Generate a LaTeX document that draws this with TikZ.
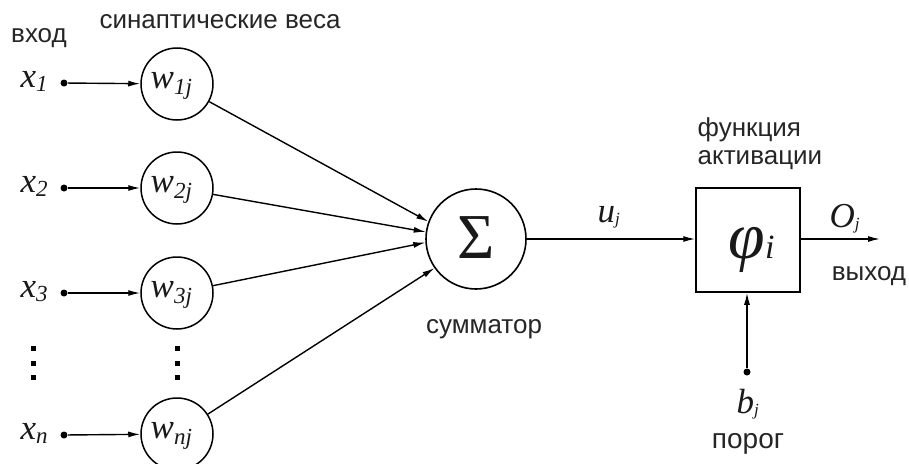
\documentclass[tikz,border=0pt]{standalone}
\usepackage{fontspec}
\setmainfont{Liberation Sans}
\newfontfamily\serifit{Liberation Serif}
\usetikzlibrary{arrows.meta}
\newcommand\xsub[1]{\raisebox{-4pt}{\fontsize{23}{23}\selectfont #1}}
\newcommand\wsub[1]{\raisebox{-6pt}{\fontsize{23}{23}\selectfont #1}}
\newcommand\jsub[1]{\raisebox{-2pt}{\fontsize{17}{17}\selectfont #1}}
\begin{document}
\begin{tikzpicture}[x=1pt,y=-1pt,line width=1.4pt,
  wcirc/.style={circle,draw,line width=1.5pt,minimum size=72pt,inner sep=0pt},
  lbl/.style={font=\fontsize{26}{28}\selectfont,text=black!85,inner sep=0pt},
  var/.style={font=\fontsize{35}{36}\selectfont\serifit\itshape,inner sep=0pt,anchor=base west,text=black!90},
  arr/.style={-{Latex[length=12pt,width=6pt]}},
  dotn/.style={circle,fill,inner sep=0pt,minimum size=7pt},
  sq/.style={rectangle,fill,inner sep=0pt,minimum size=5pt}]
\useasboundingbox[fill=white] (0,0) rectangle (909,463);

% labels top
\node[lbl] (vhod) at (39,38) {вход};
\node[lbl] (sinv) at (220,22) {синаптические веса};

% inputs
\node[var] (lx1) at (20,87) {x\xsub{1}};
\node[var] (lx2) at (20,192) {x\xsub{2}};
\node[var] (lx3) at (20,297) {x\xsub{3}};
\node[var] (lxn) at (20,439) {x\xsub{n}};
\node[dotn] (d1) at (64,83) {};
\node[dotn] (d2) at (64,188) {};
\node[dotn] (d3) at (64,293) {};
\node[dotn] (dn) at (64,435) {};

% weights
\node[wcirc] (w1) at (177,84) {};
\node[wcirc] (w2) at (177,188) {};
\node[wcirc] (w3) at (177,293) {};
\node[wcirc] (wn) at (177,434) {};
\node[var] (tw1) at (150,88) {w\wsub{1j}};
\node[var] (tw2) at (150,192) {w\wsub{2j}};
\node[var] (tw3) at (150,297) {w\wsub{3j}};
\node[var] (twn) at (150,438) {w\wsub{nj}};

% vertical dots
\foreach \yy/\nm in {348/a,363/b,377/c}{
  \node[sq] (vl\nm) at (33,\yy) {};
  \node[sq] (vr\nm) at (177,\yy) {};
}

\draw[arr] (d1) -- (w1);
\draw[arr] (d2) -- (w2);
\draw[arr] (d3) -- (w3);
\draw[arr] (dn) -- (wn);

% summator
\node[circle,draw,line width=1.6pt,minimum size=100pt,inner sep=0pt] (sum) at (476,239) {};
\node[font=\fontsize{64}{64}\selectfont\serifit,text=black!90] (sig) at (476,238) {Σ};
\node[lbl] (summ) at (484,329) {сумматор};

\draw[arr] (w1) -- (sum.160);
\draw[arr] (w2) -- (sum.172);
\draw[arr] (w3) -- (sum.184);
\draw[arr] (wn) -- (sum.215);

% activation box
\node[draw,line width=1.5pt,minimum width=104pt,minimum height=104pt,inner sep=0pt] (box) at (748,240) {};
\node[font=\fontsize{66}{66}\selectfont\serifit\itshape,inner sep=0pt,anchor=base west,text=black!90] (phi) at (728,258) {φ\raisebox{0pt}{\fontsize{34}{34}\selectfont i}};
\node[lbl,align=left,anchor=west] (fa) at (697,144) {функция\\активации};

\coordinate (uin) at (box.west |- sum.east);
\draw[arr] (sum) -- (uin);
\node[var] (uj) at (597,222) {u\jsub{j}};

% output
\coordinate (outend) at (880,239);
\draw[arr] (box.east |- outend) -- (outend);
\node[var] (oj) at (829,227) {O\jsub{j}};
\node[lbl] (vyh) at (869,276) {выход};

% threshold
\node[dotn] (bd) at (747,372) {};
\draw[arr] (bd) -- (bd |- box.south);
\node[var] (bj) at (736,413) {b\jsub{j}};
\node[lbl,font=\fontsize{28}{30}\selectfont] (porog) at (748,444) {порог};
\end{tikzpicture}
\end{document}
